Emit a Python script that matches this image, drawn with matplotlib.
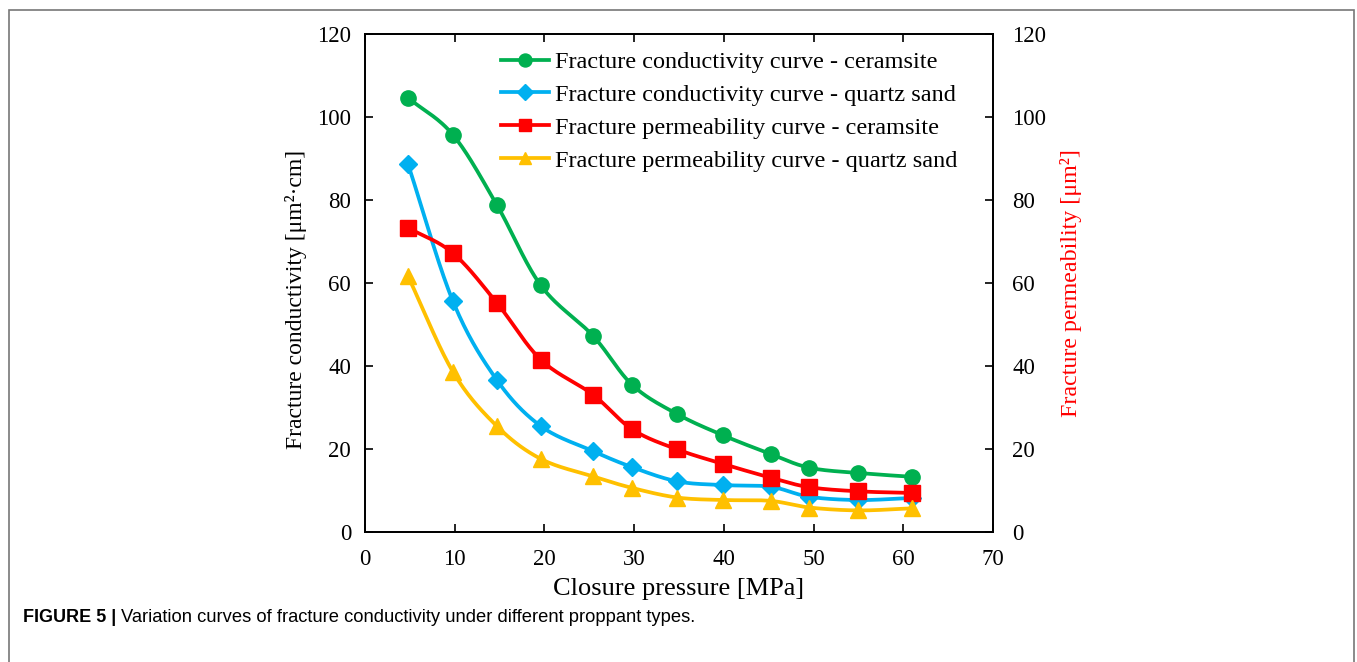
import numpy as np
import matplotlib
matplotlib.use("Agg")
import matplotlib.pyplot as plt
from matplotlib.patches import Rectangle

plt.rcParams['font.family'] = ['Liberation Serif', 'DejaVu Serif']

# data
pressure = [4.8, 9.8, 14.7, 19.6, 25.4, 29.8, 34.8, 39.9, 45.2, 49.5, 55.0, 61.0]
cond_ceramsite = [104.6, 95.7, 78.8, 59.4, 47.3, 35.4, 28.4, 23.3, 18.8, 15.5, 14.2, 13.3]
cond_quartz = [88.6, 55.6, 36.6, 25.5, 19.5, 15.6, 12.2, 11.3, 10.9, 8.5, 7.7, 8.2]
perm_ceramsite = [73.3, 67.2, 55.2, 41.5, 33.1, 24.7, 19.9, 16.4, 13.1, 10.8, 9.8, 9.4]
perm_quartz = [61.6, 38.6, 25.5, 17.6, 13.4, 10.6, 8.3, 7.7, 7.5, 5.9, 5.2, 5.7]

labels = ["Fracture conductivity curve - ceramsite",
          "Fracture conductivity curve - quartz sand",
          "Fracture permeability curve - ceramsite",
          "Fracture permeability curve - quartz sand"]
colors = ["#00B050", "#00B0F0", "#FF0000", "#FFC000"]
markers = ["o", "D", "s", "^"]
msizes = [11, 9.5, 11, 11]


def smooth(x, y, n=30):
    # catmull-rom through the points, like excel smoothed lines
    x = np.asarray(x, float)
    y = np.asarray(y, float)
    px = np.concatenate([[2 * x[0] - x[1]], x, [2 * x[-1] - x[-2]]])
    py = np.concatenate([[2 * y[0] - y[1]], y, [2 * y[-1] - y[-2]]])
    xs, ys = [], []
    t = np.linspace(0, 1, n)
    for i in range(1, len(px) - 2):
        for p, out in ((px, xs), (py, ys)):
            p0, p1, p2, p3 = p[i - 1], p[i], p[i + 1], p[i + 2]
            out.extend(0.5 * ((2 * p1) + (-p0 + p2) * t
                              + (2 * p0 - 5 * p1 + 4 * p2 - p3) * t ** 2
                              + (-p0 + 3 * p1 - 3 * p2 + p3) * t ** 3))
    return np.array(xs), np.array(ys)


fig = plt.figure(figsize=(13.57, 6.62), dpi=100)
ax = fig.add_axes([0.269, 0.1964, 0.4628, 0.7522])
ax2 = ax.twinx()

series = [cond_ceramsite, cond_quartz, perm_ceramsite, perm_quartz]
for i, ys in enumerate(series):
    target = ax if i < 2 else ax2
    sx, sy = smooth(pressure, ys)
    target.plot(sx, sy, color=colors[i], lw=2.7, zorder=2)
    target.plot(pressure, ys, ls="none", marker=markers[i], ms=msizes[i],
                color=colors[i], zorder=3)

handles = [plt.Line2D([], [], color=c, lw=2.7, marker=m, ms=s * 0.85)
           for c, m, s in zip(colors, markers, msizes)]
ax.legend(handles, labels, loc="upper left", bbox_to_anchor=(0.189, 1.0),
          frameon=False, fontsize=17.5, handlelength=2.0, handletextpad=0.25,
          labelspacing=0.45, borderaxespad=0.3)

for a in (ax, ax2):
    a.set_xlim(0, 70)
    a.set_ylim(0, 120)
    a.set_yticks(range(0, 121, 20))
    a.tick_params(direction="in", length=6, width=1.2, labelsize=16.5, pad=10)
    for sp in a.spines.values():
        sp.set_linewidth(1.3)
ax.set_xticks(range(0, 71, 10))
ax.tick_params(axis="x", top=True, pad=12)
ax2.tick_params(axis="y", pad=14)

ax.set_xlabel("Closure pressure [MPa]", fontsize=19, labelpad=6)
ax.set_ylabel("Fracture conductivity [μm²·cm]", fontsize=17)
ax.yaxis.set_label_coords(-0.092, 0.468)
ax2.set_ylabel("Fracture permeability [μm²]", fontsize=17.3, color="#FF0000")
ax2.yaxis.set_label_coords(1.106, 0.5)

# outer frame and caption
fig.patches.append(Rectangle((9 / 1357, -0.05), 1345 / 1357, 1.035,
                             transform=fig.transFigure, fill=False,
                             ec="#777777", lw=1.2))
cap_font = ['Liberation Sans Narrow', 'Liberation Sans', 'DejaVu Sans']
cap_y = 1 - 617 / 662
t1 = fig.text(23 / 1357, cap_y, "FIGURE 5 |", family=cap_font,
              fontsize=13, weight="bold", va="center")
fig.canvas.draw()
x_end = t1.get_window_extent().x1
fig.text((x_end + 5) / 1357, cap_y,
         "Variation curves of fracture conductivity under different proppant types.",
         family=cap_font, fontsize=13.2, va="center")

fig.savefig("out.png", dpi=100)
